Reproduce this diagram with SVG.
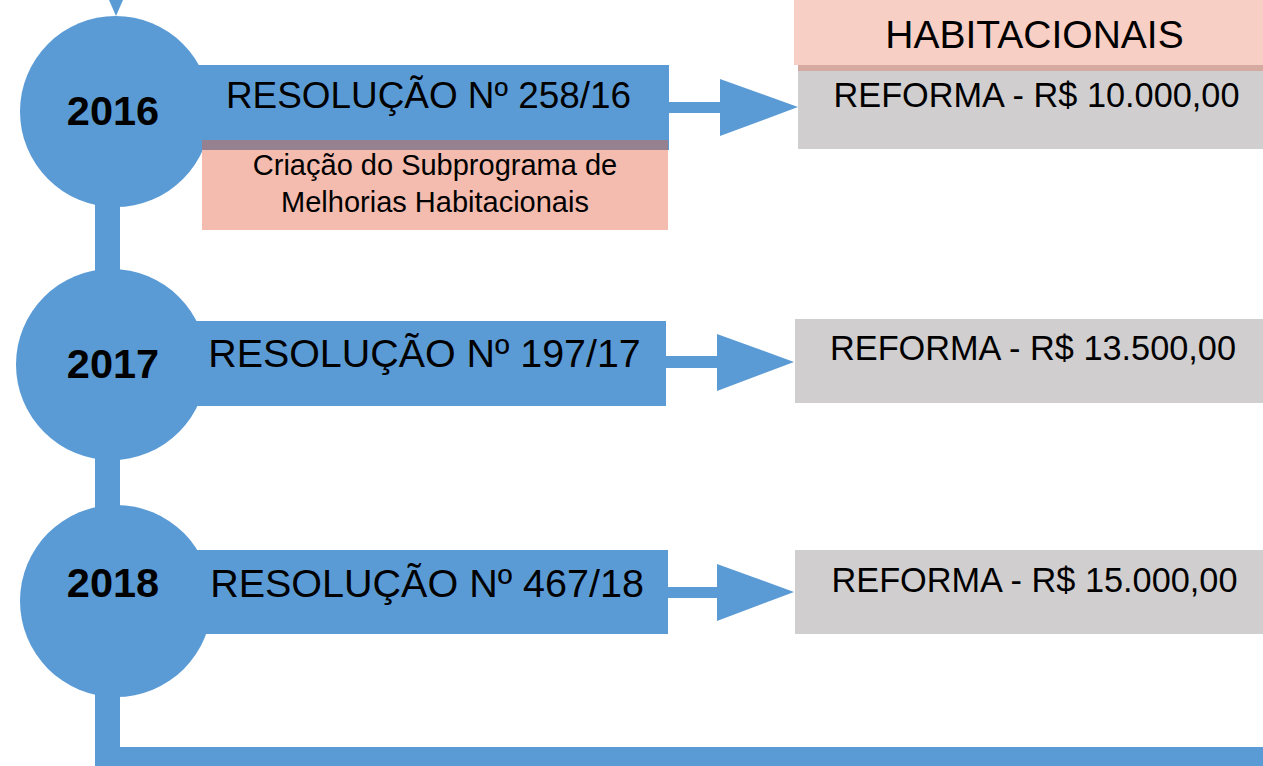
<svg xmlns="http://www.w3.org/2000/svg" width="1263" height="766" viewBox="0 0 1263 766">
<style>
.blue{fill:#5B9BD5}
.gray{fill:#D0CECF}
.t{font-family:"Liberation Sans",Arial,sans-serif;fill:#000;text-anchor:middle}
.yr{font-weight:bold;font-size:41.5px}
</style>
<rect width="1263" height="766" fill="#fff"/>
<g id="connectors">
<polygon class="blue" points="109,0 123,0 116,16"/>
<rect class="blue" x="95" y="190" width="25" height="100"/>
<rect class="blue" x="95" y="440" width="25" height="90"/>
<path class="blue" d="M95,680 H120 V747 H1263 V766 H95 Z"/>
<polygon class="blue" points="669,102 720,102 720,79 798,107 720,136 720,113 669,113"/>
<polygon class="blue" points="666,356 717,356 717,334 794,362 717,391 717,368 666,368"/>
<polygon class="blue" points="668,587 717,587 717,564 794,592 717,621 717,598 668,598"/>
</g>
<g id="node-2016">
<rect class="blue" x="150" y="65" width="519" height="85"/>
<circle class="blue" cx="115.5" cy="111.5" r="95.5"/>
<text class="t yr" x="113" y="125">2016</text>
<text class="t" x="428.5" y="108" font-size="36.9">RESOLUÇÃO Nº 258/16</text>
</g>
<g id="note-2016">
<rect x="202" y="140" width="466" height="10" fill="#968191"/>
<rect x="202" y="150" width="466" height="80" fill="#F4BCAE"/>
<text class="t" x="435" y="175" font-size="29">Criação do Subprograma de</text>
<text class="t" x="435" y="212" font-size="29">Melhorias Habitacionais</text>
</g>
<g id="header-right">
<rect x="794" y="-10" width="469" height="75" fill="#F8CFC5"/>
<rect x="798" y="65" width="465" height="6" fill="#D5ABA1"/>
<text class="t" x="1034.5" y="48" font-size="39">HABITACIONAIS</text>
</g>
<g id="value-2016">
<rect class="gray" x="798" y="71" width="465" height="78"/>
<text class="t" x="1036.5" y="107" font-size="34.3">REFORMA - R$ 10.000,00</text>
</g>
<g id="node-2017">
<rect class="blue" x="150" y="321" width="516" height="85"/>
<circle class="blue" cx="111.5" cy="364.5" r="95.5"/>
<text class="t yr" x="113" y="378">2017</text>
<text class="t" x="424.5" y="367" font-size="39.4">RESOLUÇÃO Nº 197/17</text>
</g>
<g id="value-2017">
<rect class="gray" x="795" y="319" width="468" height="84"/>
<text class="t" x="1033" y="360" font-size="34.3">REFORMA - R$ 13.500,00</text>
</g>
<g id="node-2018">
<rect class="blue" x="150" y="550" width="518" height="84"/>
<circle class="blue" cx="116" cy="601" r="96"/>
<text class="t yr" x="113" y="597">2018</text>
<text class="t" x="427" y="597" font-size="39.5">RESOLUÇÃO Nº 467/18</text>
</g>
<g id="value-2018">
<rect class="gray" x="795" y="550" width="468" height="84"/>
<text class="t" x="1034.5" y="592" font-size="34.3">REFORMA - R$ 15.000,00</text>
</g>
</svg>
